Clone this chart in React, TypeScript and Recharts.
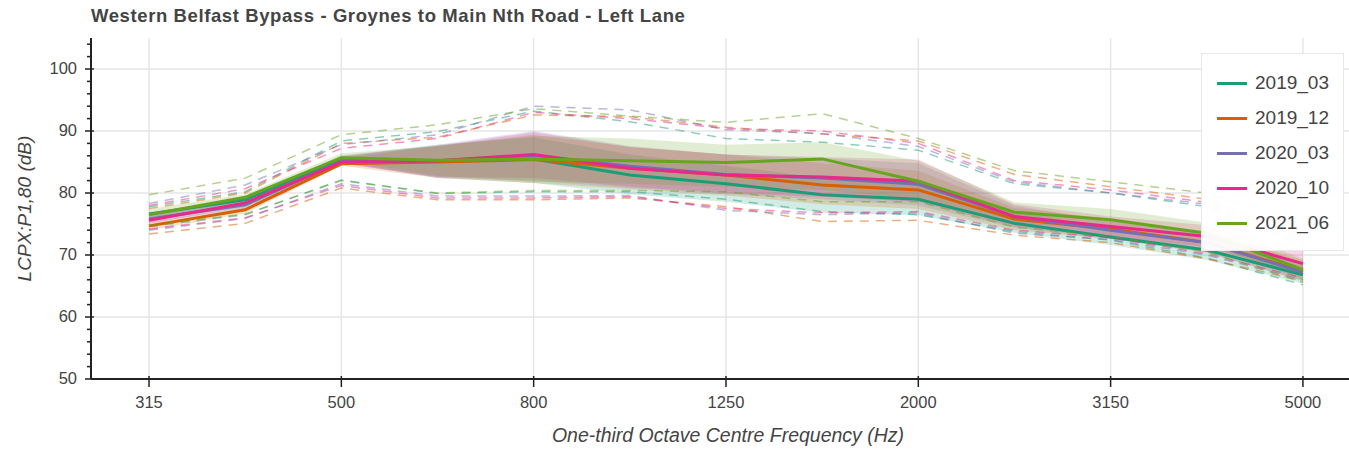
import { ComposedChart, Line, Area, XAxis, YAxis, CartesianGrid } from 'recharts';

// one-third octave bands, 315 Hz .. 5 kHz
const FREQS = ['315', '400', '500', '630', '800', '1000', '1250', '1600', '2000', '2500', '3150', '4000', '5000'];
const X_TICKS = [0, 2, 4, 6, 8, 10, 12];
const Y_TICKS = [50, 52, 54, 56, 58, 60, 62, 64, 66, 68, 70, 72, 74, 76, 78, 80, 82, 84, 86, 88, 90, 92, 94, 96, 98, 100, 102, 104];
const Y_GRID = [60, 70, 80, 90, 100];

const SERIES = ['2019_03', '2019_12', '2020_03', '2020_10', '2021_06'];
const COLORS = ['#1b9e77', '#d95f02', '#7570b3', '#e7298a', '#66a61e'];

// mean level per survey
const MEAN_2019_03 = [76.6, 78.9, 85.5, 85.1, 85.5, 82.9, 81.5, 79.7, 79.0, 75.1, 72.9, 70.8, 66.8];
const MEAN_2019_12 = [74.7, 77.3, 84.7, 85.0, 85.4, 84.0, 82.9, 81.3, 80.5, 75.8, 74.2, 72.0, 67.4];
const MEAN_2020_03 = [75.8, 78.1, 85.1, 85.2, 86.1, 84.3, 83.0, 82.4, 81.4, 76.2, 74.0, 72.0, 67.2];
const MEAN_2020_10 = [75.6, 78.4, 85.0, 85.2, 86.2, 84.0, 82.9, 82.6, 81.9, 76.2, 74.6, 73.0, 68.6];
const MEAN_2021_06 = [76.5, 79.3, 85.7, 85.3, 85.5, 85.2, 84.9, 85.5, 81.9, 76.9, 75.7, 73.5, 67.6];

// shaded band (lower / upper)
const BAND_LO_2019_03 = [75.8, 77.7, 85.0, 82.4, 81.6, 79.8, 78.6, 76.8, 76.4, 73.6, 71.6, 69.2, 65.4];
const BAND_HI_2019_03 = [76.8, 78.9, 86.0, 87.8, 89.0, 86.2, 84.4, 82.4, 81.8, 77.0, 74.4, 72.4, 68.2];
const BAND_LO_2019_12 = [74.0, 76.7, 84.4, 82.4, 81.6, 80.6, 79.6, 78.2, 77.4, 74.0, 72.6, 70.4, 65.8];
const BAND_HI_2019_12 = [75.2, 77.9, 85.6, 87.6, 89.4, 87.4, 86.2, 84.8, 83.6, 77.6, 75.8, 73.6, 69.2];
const BAND_LO_2020_03 = [75.2, 77.4, 84.8, 82.5, 82.0, 80.8, 79.8, 79.0, 78.0, 74.4, 72.6, 70.4, 65.8];
const BAND_HI_2020_03 = [76.4, 78.6, 85.8, 87.8, 90.0, 87.6, 86.2, 85.6, 84.8, 78.0, 75.4, 73.6, 68.6];
const BAND_LO_2020_10 = [75.0, 78.0, 84.8, 82.6, 82.4, 81.0, 80.0, 79.4, 78.6, 74.6, 73.0, 71.3, 66.8];
const BAND_HI_2020_10 = [76.2, 79.2, 86.0, 87.6, 89.8, 87.4, 86.2, 85.8, 85.4, 78.2, 76.2, 74.8, 70.6];
const BAND_LO_2021_06 = [76.0, 78.6, 85.2, 82.8, 81.8, 81.5, 81.0, 80.5, 79.0, 75.2, 74.0, 71.8, 66.0];
const BAND_HI_2021_06 = [77.4, 79.8, 86.4, 87.6, 89.2, 88.8, 87.8, 88.2, 85.2, 78.5, 77.4, 75.2, 69.4];

// dashed envelopes (lower / upper)
const DASH_LO_2019_03 = [74.6, 76.5, 82.1, 79.9, 80.2, 80.2, 79.0, 77.0, 76.5, 73.8, 72.4, 69.5, 65.2];
const DASH_HI_2019_03 = [77.8, 80.2, 88.4, 89.9, 93.2, 91.5, 88.8, 88.2, 86.9, 81.5, 80.0, 77.8, 71.5];
const DASH_LO_2019_12 = [73.4, 75.1, 80.8, 78.9, 78.9, 79.2, 77.8, 75.4, 75.6, 73.2, 72.0, 69.4, 65.8];
const DASH_HI_2019_12 = [77.5, 80.0, 88.0, 89.0, 92.6, 92.3, 90.6, 89.5, 88.4, 83.0, 81.0, 79.0, 73.0];
const DASH_LO_2020_03 = [74.0, 75.9, 81.5, 79.5, 79.5, 79.6, 77.2, 76.5, 76.8, 73.5, 72.5, 70.0, 66.0];
const DASH_HI_2020_03 = [78.3, 81.3, 87.8, 89.4, 94.0, 93.4, 90.2, 89.6, 87.5, 81.8, 80.0, 78.2, 72.0];
const DASH_LO_2020_10 = [74.2, 76.0, 81.2, 79.2, 79.2, 79.4, 77.5, 76.8, 77.0, 74.0, 72.8, 70.2, 66.3];
const DASH_HI_2020_10 = [78.0, 80.7, 87.2, 88.8, 93.0, 92.0, 90.4, 90.0, 88.0, 82.0, 80.5, 78.5, 72.5];
const DASH_LO_2021_06 = [74.8, 76.6, 82.0, 80.0, 80.4, 80.4, 80.2, 78.6, 78.6, 74.5, 73.0, 70.5, 65.6];
const DASH_HI_2021_06 = [79.7, 82.4, 89.4, 91.0, 93.6, 92.4, 91.4, 92.8, 88.8, 83.6, 81.8, 80.0, 75.0];

const MEANS = [MEAN_2019_03, MEAN_2019_12, MEAN_2020_03, MEAN_2020_10, MEAN_2021_06];
const BAND_LO = [BAND_LO_2019_03, BAND_LO_2019_12, BAND_LO_2020_03, BAND_LO_2020_10, BAND_LO_2021_06];
const BAND_HI = [BAND_HI_2019_03, BAND_HI_2019_12, BAND_HI_2020_03, BAND_HI_2020_10, BAND_HI_2021_06];
const DASH_LO = [DASH_LO_2019_03, DASH_LO_2019_12, DASH_LO_2020_03, DASH_LO_2020_10, DASH_LO_2021_06];
const DASH_HI = [DASH_HI_2019_03, DASH_HI_2019_12, DASH_HI_2020_03, DASH_HI_2020_10, DASH_HI_2021_06];

const data = FREQS.map((freq, i) => {
  const row: Record<string, any> = { idx: i, freq };
  SERIES.forEach((s, k) => {
    row[`${s}_mean`] = MEANS[k][i];
    row[`${s}_band`] = [BAND_LO[k][i], BAND_HI[k][i]];
    row[`${s}_dlo`] = DASH_LO[k][i];
    row[`${s}_dhi`] = DASH_HI[k][i];
  });
  return row;
});

const FONT = '"Liberation Sans", Arial, Helvetica, sans-serif';
const AXIS = '#222';

const YTick = ({ x, y, payload }: any) => {
  const major = payload.value % 10 === 0;
  return (
    <g>
      <line x1={x - (major ? 6 : 4)} x2={x + (major ? 3 : 0)} y1={y} y2={y} stroke={AXIS} strokeWidth={1.5} />
      {major && (
        <text x={x - 14} y={y} dy={5} textAnchor="end" fontSize={16.5} fill="#444" fontFamily={FONT}>
          {payload.value}
        </text>
      )}
    </g>
  );
};

const XTick = ({ x, y, payload }: any) => (
  <g>
    <line x1={x} x2={x} y1={y - 3} y2={y + 8} stroke={AXIS} strokeWidth={1.5} />
    <text x={x} y={y + 29} textAnchor="middle" fontSize={16.5} fill="#444" fontFamily={FONT}>
      {FREQS[payload.value]}
    </text>
  </g>
);

export default function App() {
  return (
    <div style={{ position: 'absolute', left: 0, top: 0, width: 1349, height: 451, background: '#fff', fontFamily: FONT, overflow: 'hidden' }}>
      <ComposedChart width={1349} height={451} data={data} margin={{ top: 38, right: 0, bottom: 0, left: 0 }}>
        <CartesianGrid stroke="#e6e6e6" strokeWidth={1.5} verticalValues={X_TICKS} horizontalValues={Y_GRID} />
        <XAxis
          dataKey="idx"
          type="number"
          domain={[-0.6034, 12.479]}
          allowDataOverflow
          ticks={X_TICKS}
          interval={0}
          height={72}
          tickSize={0}
          tickMargin={0}
          tickLine={false}
          tick={<XTick />}
          axisLine={{ stroke: AXIS, strokeWidth: 2 }}
          label={{ value: 'One-third Octave Centre Frequency (Hz)', position: 'insideBottom', offset: 9, dx: 8, fontSize: 19.5, fontStyle: 'italic', fill: '#444' }}
        />
        <YAxis
          type="number"
          domain={[50, 105]}
          allowDataOverflow
          ticks={Y_TICKS}
          interval={0}
          width={91}
          tickSize={0}
          tickMargin={0}
          tickLine={false}
          tick={<YTick />}
          axisLine={{ stroke: AXIS, strokeWidth: 2 }}
          label={{ value: 'LCPX:P1,80 (dB)', angle: -90, position: 'insideLeft', offset: 24, fontSize: 19, fontStyle: 'italic', fill: '#444', style: { textAnchor: 'middle' } }}
        />
        {SERIES.flatMap((s, k) => [
          <Area
            key={`${s}-band`}
            dataKey={`${s}_band`}
            type="linear"
            stroke="none"
            fill={COLORS[k]}
            fillOpacity={0.2}
            isAnimationActive={false}
          />,
          <Line
            key={`${s}-mean`}
            dataKey={`${s}_mean`}
            type="linear"
            stroke={COLORS[k]}
            strokeWidth={3}
            dot={false}
            activeDot={false}
            isAnimationActive={false}
          />,
          <Line
            key={`${s}-dhi`}
            dataKey={`${s}_dhi`}
            type="linear"
            stroke={COLORS[k]}
            strokeOpacity={0.5}
            strokeWidth={1.5}
            strokeDasharray="9 7"
            dot={false}
            activeDot={false}
            isAnimationActive={false}
          />,
          <Line
            key={`${s}-dlo`}
            dataKey={`${s}_dlo`}
            type="linear"
            stroke={COLORS[k]}
            strokeOpacity={0.5}
            strokeWidth={1.5}
            strokeDasharray="9 7"
            dot={false}
            activeDot={false}
            isAnimationActive={false}
          />,
        ])}
      </ComposedChart>

      <div style={{ position: 'absolute', left: 91, top: 5, fontSize: 18.5, letterSpacing: 0.6, fontWeight: 'bold', color: '#444', whiteSpace: 'nowrap' }}>
        Western Belfast Bypass - Groynes to Main Nth Road - Left Lane
      </div>

      <div
        style={{
          position: 'absolute',
          left: 1201,
          top: 53,
          width: 143,
          height: 198,
          background: 'rgba(255,255,255,0.95)',
          border: '1px solid #e8e8e8',
          boxSizing: 'border-box',
        }}
      >
        {SERIES.map((s, k) => (
          <div key={s} style={{ position: 'absolute', left: 15, top: 17 + k * 35, height: 24, display: 'flex', alignItems: 'center' }}>
            <div style={{ width: 30, height: 3, background: COLORS[k] }} />
            <span style={{ marginLeft: 8, fontSize: 19, color: '#444' }}>{s}</span>
          </div>
        ))}
      </div>
    </div>
  );
}
